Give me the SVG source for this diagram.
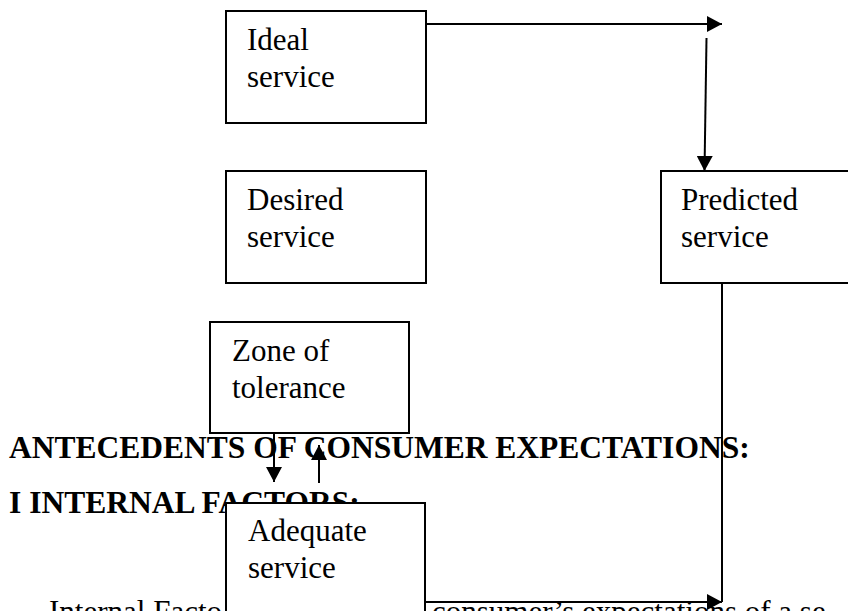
<svg xmlns="http://www.w3.org/2000/svg" width="848" height="611" viewBox="0 0 848 611">
<style>
.box{fill:#fff;stroke:#000;stroke-width:2}
.lbl{font-family:"Liberation Serif","Times New Roman",serif;font-size:31px;fill:#000}
.hd{font-family:"Liberation Serif","Times New Roman",serif;font-size:31.5px;font-weight:bold;fill:#000}
.body{font-family:"Liberation Serif","Times New Roman",serif;font-size:31px;fill:#000}
.ln{stroke:#000;stroke-width:2;fill:none}
.arr{stroke:#000;stroke-width:2;fill:none;marker-end:url(#ah)}
</style>
<defs>
<marker id="ah" viewBox="0 0 15 16" refX="15" refY="8" markerWidth="15" markerHeight="16" markerUnits="userSpaceOnUse" orient="auto">
<path d="M0,0 L15,8 L0,16 Z" fill="#000"/>
</marker>
</defs>
<rect width="848" height="611" fill="#fff"/>
<g id="text-body">
<text class="hd" x="9" y="458">ANTECEDENTS OF CONSUMER EXPECTATIONS:</text>
<text class="hd" x="9" y="513">I INTERNAL FACTORS:</text>
<text class="body" x="49" y="622">Internal Facto</text>
<text class="body" x="432" y="622">consumer’s expectations of a se</text>
</g>
<g id="connectors">
<line class="arr" x1="426" y1="24" x2="722" y2="24"/>
<line class="arr" x1="706.5" y1="38" x2="704.5" y2="171"/>
<line class="ln" x1="722" y1="283" x2="722" y2="602"/>
<line class="arr" x1="274" y1="433" x2="274" y2="482"/>
<line class="arr" x1="319" y1="483" x2="319" y2="445"/>
<line class="arr" x1="425" y1="602" x2="722" y2="602"/>
</g>
<g id="ideal">
<rect class="box" x="226" y="11" width="200" height="112"/>
<text class="lbl" x="247" y="50">Ideal</text>
<text class="lbl" x="247" y="87">service</text>
</g>
<g id="desired">
<rect class="box" x="226" y="171" width="200" height="112"/>
<text class="lbl" x="247" y="210">Desired</text>
<text class="lbl" x="247" y="247">service</text>
</g>
<g id="predicted">
<rect class="box" x="661" y="171" width="220" height="112"/>
<text class="lbl" x="681" y="210">Predicted</text>
<text class="lbl" x="681" y="247">service</text>
</g>
<g id="zone">
<rect class="box" x="210" y="322" width="199" height="111"/>
<text class="lbl" x="232" y="361">Zone of</text>
<text class="lbl" x="232" y="398">tolerance</text>
</g>
<g id="adequate">
<rect class="box" x="226" y="503" width="199" height="112"/>
<text class="lbl" x="248" y="541">Adequate</text>
<text class="lbl" x="248" y="578">service</text>
</g>
</svg>
